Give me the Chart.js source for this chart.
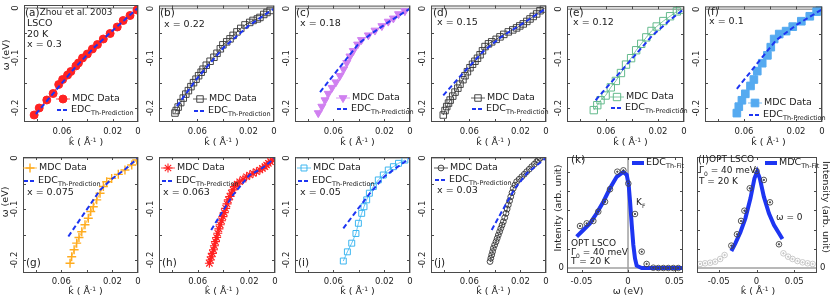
<!DOCTYPE html>
<html><head><meta charset="utf-8">
<script src="https://cdn.jsdelivr.net/npm/chart.js@4.4.0/dist/chart.umd.min.js"></script>
<style>
html,body{margin:0;padding:0;background:#fff;}
#wrap{position:relative;width:830px;height:300px;overflow:hidden;background:#fff;}
#wrap canvas{position:absolute;left:0;top:0;}
</style></head><body><div id="wrap"></div>
<script>
// ---------- tick labels ----------
const kTickVals = [0.06, 0.02, 0];
const kTickText = ['0.06', '0.02', '0'];
const wTickVals = [0, -0.1, -0.2];
const wTickText = ['0', '-0.1', '-0.2'];
const fitTickVals = [-0.05, 0, 0.05];
const fitTickText = ['-0.05', '0', '0.05'];
const intTickVals = [0];
const intTickText = ['0'];

// ---------- (a) x = 0.3 ----------
const mdcK_a = [0.082,0.078,0.072,0.067,0.0626,0.0595,0.0556,0.053,0.049,0.047,0.0438,0.040,0.036,0.032,0.0274,0.022,0.0164,0.0117,0.0063,0.0008];
const mdcW_a = [-0.214,-0.2,-0.184,-0.171,-0.153,-0.143,-0.134,-0.127,-0.116,-0.11,-0.1,-0.092,-0.082,-0.073,-0.062,-0.051,-0.038,-0.025,-0.015,-0.004];
const edcK_a = [0.0806,0.065,0.05,0.035,0.02,0];
const edcW_a = [-0.212,-0.165,-0.12,-0.08,-0.045,0];
// ---------- (b) x = 0.22 ----------
const mdcK_b = [0.0775,0.0765,0.075,0.073,0.071,0.069,0.067,0.065,0.063,0.061,0.059,0.057,0.0555,0.053,0.05,0.047,0.0446,0.042,0.040,0.037,0.0344,0.032,0.029,0.026,0.0227,0.019,0.0164,0.013,0.011,0.008,0.0055,0.003];
const mdcW_b = [-0.21,-0.205,-0.198,-0.189,-0.18,-0.172,-0.165,-0.157,-0.149,-0.142,-0.135,-0.128,-0.122,-0.114,-0.106,-0.098,-0.09,-0.081,-0.073,-0.067,-0.061,-0.054,-0.047,-0.04,-0.033,-0.028,-0.024,-0.021,-0.018,-0.012,-0.008,-0.004];
const edcK_b = [0.076,0.06,0.04,0.02,0];
const edcW_b = [-0.196,-0.14,-0.08,-0.035,0];
// ---------- (c) x = 0.18 ----------
const mdcK_c = [0.0718,0.069,0.0665,0.064,0.061,0.058,0.0548,0.052,0.0495,0.047,0.0444,0.041,0.038,0.0326,0.0274,0.022,0.017,0.013,0.009,0.004];
const mdcW_c = [-0.21,-0.197,-0.184,-0.171,-0.159,-0.148,-0.135,-0.122,-0.109,-0.096,-0.085,-0.072,-0.063,-0.0536,-0.044,-0.035,-0.026,-0.0196,-0.011,-0.005];
const edcK_c = [0.0704,0.055,0.04,0.03,0.015,0];
const edcW_c = [-0.168,-0.118,-0.07,-0.05,-0.024,0];
// ---------- (d) x = 0.15 ----------
const mdcK_d = [0.0804,0.079,0.0777,0.0763,0.075,0.073,0.0712,0.069,0.0673,0.065,0.0634,0.0615,0.0595,0.0575,0.0556,0.0536,0.0516,0.0497,0.0477,0.045,0.0425,0.039,0.036,0.033,0.0295,0.026,0.023,0.0205,0.0178,0.015,0.0125,0.01,0.0073,0.0047,0.002];
const mdcW_d = [-0.214,-0.205,-0.197,-0.19,-0.184,-0.176,-0.168,-0.16,-0.152,-0.143,-0.135,-0.127,-0.119,-0.112,-0.106,-0.1,-0.093,-0.085,-0.0765,-0.071,-0.067,-0.062,-0.057,-0.052,-0.047,-0.043,-0.039,-0.035,-0.031,-0.026,-0.021,-0.016,-0.011,-0.0045,-0.001];
const edcK_d = [0.0804,0.065,0.049,0.035,0.02,0];
const edcW_d = [-0.1745,-0.13,-0.086,-0.057,-0.033,0];
// ---------- (e) x = 0.12 ----------
const mdcK_e = [0.0694,0.0667,0.0642,0.0603,0.0563,0.0524,0.0485,0.0446,0.0407,0.0368,0.0329,0.029,0.025,0.021,0.0159,0.0107,0.0055,0.003];
const mdcW_e = [-0.204,-0.194,-0.184,-0.1745,-0.158,-0.145,-0.129,-0.112,-0.099,-0.083,-0.07,-0.057,-0.044,-0.035,-0.024,-0.0143,-0.0045,-0.001];
const edcK_e = [0.068,0.055,0.04,0.025,0.01,0];
const edcW_e = [-0.184,-0.145,-0.1,-0.055,-0.02,0];
// ---------- (f) x = 0.1 ----------
const mdcK_f = [0.0655,0.064,0.0616,0.059,0.055,0.0524,0.0498,0.046,0.042,0.0394,0.0368,0.0329,0.0276,0.0225,0.0159,0.0094,0.0041,0.0016];
const mdcW_f = [-0.21,-0.197,-0.184,-0.171,-0.155,-0.142,-0.125,-0.109,-0.093,-0.0765,-0.06,-0.05,-0.044,-0.035,-0.024,-0.014,-0.0045,-0.001];
const edcK_f = [0.0655,0.05,0.0355,0.02,0];
const edcW_f = [-0.161,-0.11,-0.063,-0.032,0];
// ---------- (g) x = 0.075 ----------
const mdcK_g = [0.0532,0.0519,0.050,0.048,0.0462,0.044,0.0415,0.0389,0.037,0.035,0.0323,0.0297,0.0271,0.0245,0.0206,0.0154,0.0102,0.0049,0.001];
const mdcW_g = [-0.2065,-0.1935,-0.18,-0.167,-0.156,-0.1445,-0.131,-0.118,-0.105,-0.0955,-0.082,-0.069,-0.056,-0.0465,-0.04,-0.032,-0.0235,-0.0137,-0.004];
const edcK_g = [0.0545,0.042,0.0297,0.02,0.01,0];
const edcW_g = [-0.154,-0.108,-0.063,-0.04,-0.022,0];
// ---------- (h) x = 0.063 ----------
const mdcK_h = [0.0509,0.0502,0.0495,0.0486,0.0477,0.047,0.0462,0.0453,0.0444,0.0435,0.0425,0.0415,0.0404,0.0394,0.0383,0.0372,0.0362,0.035,0.0339,0.0326,0.0313,0.0294,0.0274,0.0248,0.0221,0.0196,0.017,0.0144,0.0117,0.0098,0.0078,0.0065,0.0052,0.0035,0.002];
const mdcW_h = [-0.2065,-0.2,-0.1935,-0.187,-0.18,-0.172,-0.164,-0.156,-0.1476,-0.139,-0.131,-0.123,-0.115,-0.107,-0.0987,-0.09,-0.082,-0.0755,-0.069,-0.0625,-0.056,-0.051,-0.0465,-0.0416,-0.0367,-0.0333,-0.030,-0.0268,-0.0235,-0.0203,-0.017,-0.0137,-0.0104,-0.007,-0.004];
const edcK_h = [0.0495,0.041,0.0326,0.02,0.01,0];
const edcW_h = [-0.141,-0.106,-0.0725,-0.034,-0.02,0];
// ---------- (i) x = 0.05 ----------
const mdcK_i = [0.0522,0.049,0.0456,0.0423,0.0404,0.0378,0.036,0.0339,0.0318,0.0287,0.0248,0.0209,0.017,0.013,0.009,0.004];
const mdcW_i = [-0.202,-0.184,-0.167,-0.148,-0.128,-0.1085,-0.0955,-0.082,-0.069,-0.056,-0.043,-0.0333,-0.0235,-0.017,-0.0104,-0.004];
const edcK_i = [0.0522,0.042,0.0313,0.02,0];
const edcW_i = [-0.138,-0.104,-0.069,-0.036,0];
// ---------- (j) x = 0.03 ----------
const mdcK_j = [0.0438,0.0432,0.0425,0.0418,0.0412,0.0402,0.0391,0.0382,0.0373,0.0363,0.0354,0.0344,0.0334,0.0323,0.0313,0.0304,0.0295,0.0285,0.0276,0.0266,0.0256,0.0243,0.023,0.021,0.019,0.017,0.0151,0.0131,0.0112,0.0092,0.0073,0.006,0.0047];
const mdcW_j = [-0.203,-0.1965,-0.190,-0.1835,-0.177,-0.1705,-0.164,-0.1575,-0.151,-0.1445,-0.138,-0.1315,-0.125,-0.117,-0.1085,-0.1,-0.092,-0.084,-0.076,-0.068,-0.0595,-0.053,-0.0465,-0.0416,-0.0367,-0.0318,-0.0268,-0.0219,-0.017,-0.0122,-0.0073,-0.004,-0.0006];
const edcK_j = [0.0425,0.0335,0.0243,0.015,0];
const edcW_j = [-0.141,-0.1,-0.0595,-0.03,0];
// ---------- (k) EDC fit at kF ----------
const fitW_k = [-0.0552,-0.048,-0.0409,-0.0337,-0.0265,-0.0194,-0.0122,-0.005,-0.0014,0.0007,0.0022,0.004,0.0057,0.0075,0.0093,0.0147,0.03,0.059];
const fitI_k = [0.326,0.396,0.465,0.57,0.69,0.83,0.95,1.0,0.97,0.865,0.69,0.45,0.24,0.10,0.024,0,0,0];
const datW_k = [-0.0516,-0.0444,-0.0373,-0.032,-0.0247,-0.0194,-0.0115,-0.005,0.0003,0.0075,0.0147,0.020,0.0272,0.0326,0.038,0.0433,0.0487,0.054];
const datI_k = [0.4375,0.465,0.49,0.587,0.69,0.82,1.003,1.017,0.88,0.5625,0.17,0.042,0.003,0,0,0,0,0];
// ---------- (l) MDC fit at omega = 0 ----------
const fitK_l = [-0.0333,-0.028,-0.0213,-0.0147,-0.008,-0.0027,0.0009,0.0044,0.0097,0.0164,0.0231,0.0297,0.0343];
const fitI_l = [0.177,0.257,0.372,0.517,0.726,0.934,1.003,0.934,0.743,0.569,0.448,0.361,0.302];
const datK_l = [-0.0333,-0.0258,-0.0204,-0.016,-0.0089,0,0.0097,0.0178,0.0297];
const datI_l = [0.233,0.351,0.49,0.597,0.83,1.01,0.917,0.684,0.247];
const outK_l = [-0.0747,-0.068,-0.0613,-0.0547,-0.048,-0.0422,0.0356,0.0418,0.0476,0.0542,0.0609,0.0676,0.0742];
const outI_l = [0.042,0.049,0.055,0.066,0.094,0.135,0.153,0.118,0.094,0.073,0.059,0.049,0.042];

// ---------- helpers ----------
const F = "'DejaVu Sans', 'Noto Sans', sans-serif";
const BLUE = '#1d35f2';
const wrap = document.getElementById('wrap');
function pts(xs, ys){ return xs.map((v,i)=>({x:v, y:ys[i]})); }
function mdcSet(xs, ys, st, noLine){
  return {data:pts(xs,ys), showLine:!noLine, borderColor:st.color, borderWidth:0.8,
    pointStyle:st.shape, pointRotation:st.rot||0, pointRadius:st.r, pointBorderWidth:st.bw||1,
    pointBorderColor:st.color, pointBackgroundColor: st.fill ? st.color : 'rgba(0,0,0,0)', order:2};
}
function edcSet(xs, ys){
  return {data:pts(xs,ys), showLine:true, borderColor:BLUE, borderWidth:2, borderDash:[5,3], pointRadius:0, order:1};
}
// parts: [text, size, dy, flag]; flag 'hat' draws a circumflex over the previous glyph
function drawParts(ctx, x, y, parts, align){
  let total = 0;
  parts.forEach(p=>{ if (p[3]==='hat') return; ctx.font = p[1]+'px '+F; total += ctx.measureText(p[0]).width; });
  let cx = align==='center' ? x-total/2 : (align==='right' ? x-total : x);
  let prevX = cx, prevW = 0;
  ctx.textAlign = 'left'; ctx.textBaseline = 'middle';
  parts.forEach(p=>{
    ctx.font = p[1]+'px '+F;
    if (p[3]==='hat') { ctx.textAlign='center'; ctx.fillText(p[0], prevX + prevW/2, y + (p[2]||0)); ctx.textAlign='left'; return; }
    ctx.fillText(p[0], cx, y + (p[2]||0));
    prevX = cx; prevW = ctx.measureText(p[0]).width; cx += prevW;
  });
}
function drawMarker(ctx, st, x, y){
  ctx.save();
  ctx.strokeStyle = st.color; ctx.lineWidth = st.bw||1;
  ctx.fillStyle = st.fill ? st.color : 'rgba(0,0,0,0)';
  Chart.helpers.drawPoint(ctx, {pointStyle:st.shape, rotation:st.rot||0, radius:st.r, borderWidth:st.bw||1}, x, y);
  ctx.restore();
}
const kTitle = [['k',9.5],['\u02c6',9,-1.5,'hat'],[' ( \u00c5',9.5],['-1',6,-3],[' )',9.5]];

function panelPlugin(spec){
  return {
    id:'panel',
    beforeDatasetsDraw(chart){
      const {ctx, chartArea:a, scales:{x, y}} = chart;
      ctx.save(); ctx.strokeStyle = '#a0a0a0'; ctx.lineWidth = 1.5;
      (spec.hLines||[]).forEach(v=>{ const py=y.getPixelForValue(v); ctx.beginPath(); ctx.moveTo(a.left,py); ctx.lineTo(a.right,py); ctx.stroke(); });
      (spec.vLines||[]).forEach(v=>{ const px=x.getPixelForValue(v); ctx.beginPath(); ctx.moveTo(px,a.top); ctx.lineTo(px,a.bottom); ctx.stroke(); });
      ctx.restore();
    },
    afterDatasetsDraw(chart){
      const {ctx, chartArea:a, scales:{x, y}} = chart;
      ctx.save();
      ctx.strokeStyle = '#4a4a4a'; ctx.lineWidth = 1;
      ctx.strokeRect(a.left+0.5, a.top+0.5, a.right-a.left-1, a.bottom-a.top-1);
      ctx.beginPath();
      (spec.xMinor||[]).forEach(v=>{ const px=Math.round(x.getPixelForValue(v))+0.5; ctx.moveTo(px,a.bottom); ctx.lineTo(px,a.bottom-3); ctx.moveTo(px,a.top); ctx.lineTo(px,a.top+3); });
      (spec.yMinor||[]).forEach(v=>{ const py=Math.round(y.getPixelForValue(v))+0.5; ctx.moveTo(a.left,py); ctx.lineTo(a.left+3,py); ctx.moveTo(a.right,py); ctx.lineTo(a.right-3,py); });
      ctx.stroke();
      ctx.fillStyle = '#222';
      ctx.font = '8.5px '+F; ctx.textAlign='center'; ctx.textBaseline='middle';
      spec.xt[0].forEach((v,i)=>{ ctx.fillText(spec.xt[1][i], x.getPixelForValue(v), a.bottom + spec.xLabDy); });
      spec.yt[0].forEach((v,i)=>{
        const py = y.getPixelForValue(v);
        ctx.font = '8.5px '+F;
        if (spec.yLabSide === 'right') { ctx.textAlign='left'; ctx.textBaseline='middle'; ctx.fillText(spec.yt[1][i], a.right+3, py); }
        else if (spec.yRot) { ctx.save(); ctx.translate(a.left-8, py); ctx.rotate(-Math.PI/2); ctx.textAlign='center'; ctx.textBaseline='middle'; ctx.fillText(spec.yt[1][i],0,0); ctx.restore(); }
        else { ctx.textAlign='right'; ctx.textBaseline='middle'; ctx.fillText(spec.yt[1][i], a.left-3, py); }
      });
      if (spec.xTitle) drawParts(ctx, spec.xTitle.x, spec.xTitle.y, spec.xTitle.parts, 'center');
      if (spec.yTitle) {
        ctx.save(); ctx.translate(spec.yTitle.x, spec.yTitle.y); ctx.rotate(spec.yTitle.rot);
        drawParts(ctx, 0, 0, spec.yTitle.parts, 'center'); ctx.restore();
      }
      const lg = spec.legend;
      if (lg) {
        if (lg.mdc) {
          ctx.save(); ctx.strokeStyle = lg.mdc.st.color; ctx.lineWidth = 0.8;
          ctx.beginPath(); ctx.moveTo(lg.mdc.x-7, lg.mdc.y); ctx.lineTo(lg.mdc.x+7, lg.mdc.y); ctx.stroke(); ctx.restore();
          drawMarker(ctx, lg.mdc.st, lg.mdc.x, lg.mdc.y);
          ctx.fillStyle = '#222'; drawParts(ctx, lg.mdc.x+9, lg.mdc.y, [['MDC Data',9.5]]);
        }
        if (lg.line) {
          const L = lg.line;
          ctx.save(); ctx.strokeStyle = BLUE; ctx.lineWidth = L.w; ctx.setLineDash(L.dash||[]);
          ctx.beginPath(); ctx.moveTo(L.x0, L.y); ctx.lineTo(L.x1, L.y); ctx.stroke(); ctx.restore();
          ctx.fillStyle = '#222'; drawParts(ctx, L.x1+2, L.y, L.parts);
        }
      }
      ctx.fillStyle = '#222';
      (spec.texts||[]).forEach(t=>{ drawParts(ctx, t.x, t.y, t.parts, t.align); });
      ctx.restore();
    }
  };
}

function build(spec){
  const cv = document.createElement('canvas'); cv.width = 830; cv.height = 300; wrap.appendChild(cv);
  const [L,T,R,B] = spec.box;
  new Chart(cv, {
    type:'scatter',
    data:{datasets:spec.datasets},
    options:{
      responsive:false, animation:false, devicePixelRatio:1, events:[],
      layout:{padding:{left:L, top:T, right:830-R, bottom:300-B}},
      scales:{
        x:{type:'linear', display:false, min:spec.x[0], max:spec.x[1], reverse:!!spec.x[2]},
        y:{type:'linear', display:false, min:spec.y[0], max:spec.y[1]}
      },
      plugins:{legend:{display:false}, tooltip:{enabled:false}}
    },
    plugins:[panelPlugin(spec)]
  });
}

// ---------- styles ----------
const S = {
  a:{shape:'circle', r:4, color:'#ff2222', fill:true},
  b:{shape:'rect', r:4.6, color:'#333333', bw:0.9},
  c:{shape:'triangle', r:4.6, rot:180, color:'#d080f0', fill:true},
  d:{shape:'rect', r:4.6, color:'#333333', bw:0.9},
  e:{shape:'rect', r:5.2, color:'#63ba8c', bw:1},
  f:{shape:'rect', r:5.4, color:'#55aaf0', fill:true},
  g:{shape:'cross', r:4.5, color:'#ffac1f', bw:1.4},
  h:{shape:'star', r:4.5, color:'#ff2020', bw:1.1},
  i:{shape:'rect', r:4.2, color:'#3cb6f0', bw:1},
  j:{shape:'circle', r:2.9, color:'#333333', bw:0.9},
  fit:{shape:'circle', r:2.8, color:'#444444', bw:0.9},
  fitDot:{shape:'circle', r:0.7, color:'#444444', fill:true},
  out:{shape:'circle', r:2.8, color:'#c4c4c4', bw:0.9},
  outDot:{shape:'circle', r:0.7, color:'#c4c4c4', fill:true}
};
const xMinorK = [0.08,0.06,0.04,0.02];
const yMinorW = [-0.05,-0.1,-0.15,-0.2];
const row1 = {T:3, B:122, y:[-0.228,0.006], xLabDy:10};
const row2 = {T:157, B:273, y:[-0.2255,0.002], xLabDy:9};
function edcParts(){ return [['EDC',9.5],['Th-Prediction',6.5,3]]; }

function kPanel(row, L, R, mdcK, mdcW, edcK, edcW, st, legend, texts, yTitle){
  build({
    box:[L,row.T,R,row.B], x:[0,0.09,true], y:row.y,
    xt:[kTickVals,kTickText], yt:[wTickVals,wTickText], yRot:true, xLabDy:row.xLabDy,
    hLines:[0], vLines:[0], xMinor:xMinorK, yMinor:yMinorW,
    xTitle:{x:(L+R)/2+5, y:row.B + (row===row1?21:19), parts:kTitle},
    yTitle: yTitle,
    datasets:[edcSet(edcK,edcW), mdcSet(mdcK,mdcW,st)],
    legend: legend, texts: texts
  });
}
function lg1(mx, my, ly, st){
  return {mdc:{x:mx, y:my, st:st}, line:{x0:mx-6, x1:mx+6, y:ly, w:2, dash:[4,2], parts:edcParts()}};
}

// Row 1
kPanel(row1, 24, 138, mdcK_a, mdcW_a, edcK_a, edcW_a, S.a, lg1(63,99,110,S.a),
  [{x:25,y:13,parts:[['(a)',10.5],['Zhou et al. 2003',8.8]]},{x:27,y:24,parts:[['LSCO',9.5]]},{x:27,y:35,parts:[['20 K',9.5]]},{x:27,y:45,parts:[['x = 0.3',9.5]]}],
  {x:7, y:55, rot:-Math.PI/2, parts:[['\u03c9 (eV)',9.5]]});
kPanel(row1, 159, 274, mdcK_b, mdcW_b, edcK_b, edcW_b, S.b, lg1(200,99,111,S.b),
  [{x:160,y:13,parts:[['(b)',10.5]]},{x:164,y:25,parts:[['x = 0.22',9.5]]}]);
kPanel(row1, 295, 410, mdcK_c, mdcW_c, edcK_c, edcW_c, S.c, lg1(343,98,109,S.c),
  [{x:296,y:13,parts:[['(c)',10.5]]},{x:300,y:24,parts:[['x = 0.18',9.5]]}]);
kPanel(row1, 431, 546, mdcK_d, mdcW_d, edcK_d, edcW_d, S.d, lg1(478,98,109,S.d),
  [{x:433,y:13,parts:[['(d)',10.5]]},{x:437,y:23,parts:[['x = 0.15',9.5]]}]);
kPanel(row1, 567, 684, mdcK_e, mdcW_e, edcK_e, edcW_e, S.e, lg1(617,97,108,S.e),
  [{x:569,y:13,parts:[['(e)',10.5]]},{x:573,y:23,parts:[['x = 0.12',9.5]]}]);
kPanel(row1, 705, 822, mdcK_f, mdcW_f, edcK_f, edcW_f, S.f, lg1(755,103,115,S.f),
  [{x:707,y:12,parts:[['(f)',10.5]]},{x:709,y:22,parts:[['x = 0.1',9.5]]}]);

// Row 2
kPanel(row2, 23, 138, mdcK_g, mdcW_g, edcK_g, edcW_g, S.g, lg1(30,168,181,S.g),
  [{x:27,y:193,parts:[['x = 0.075',9.5]]},{x:26,y:263,parts:[['(g)',10.5]]}],
  {x:6, y:202, rot:-Math.PI/2, parts:[['\u03c9 (eV)',9.5]]});
kPanel(row2, 159, 275, mdcK_h, mdcW_h, edcK_h, edcW_h, S.h, lg1(168,168,181,S.h),
  [{x:163,y:193,parts:[['x = 0.063',9.5]]},{x:162,y:263,parts:[['(h)',10.5]]}]);
kPanel(row2, 295, 410, mdcK_i, mdcW_i, edcK_i, edcW_i, S.i, lg1(304,168,181,S.i),
  [{x:300,y:193,parts:[['x = 0.05',9.5]]},{x:298,y:263,parts:[['(i)',10.5]]}]);
kPanel(row2, 431, 546, mdcK_j, mdcW_j, edcK_j, edcW_j, S.j, lg1(441,168,180,S.j),
  [{x:437,y:191,parts:[['x = 0.03',9.5]]},{x:434,y:263,parts:[['(j)',10.5]]}]);

// (k)
build({
  box:[567,157,683,273], x:[-0.0656,0.0591,false], y:[-0.052,1.156],
  xt:[fitTickVals,fitTickText], yt:[intTickVals,intTickText], yRot:false, xLabDy:9,
  hLines:[0], vLines:[0], xMinor:[-0.05,0,0.05], yMinor:[0.2,0.4,0.6,0.8,1.0],
  xTitle:{x:628, y:292, parts:[['\u03c9 (eV)',9.5]]},
  yTitle:{x:559, y:208, rot:-Math.PI/2, parts:[['Intenity (arb. unit)',9.5]]},
  datasets:[
    mdcSet(datW_k, datI_k, S.fit, true),
    mdcSet(datW_k, datI_k, S.fitDot, true),
    {data:pts(fitW_k, fitI_k), showLine:true, borderColor:BLUE, borderWidth:4, pointRadius:0, order:3}
  ],
  legend:{line:{x0:632, x1:644, y:163, w:4, parts:[['EDC',9.5],['Th-Fit',6.5,3]]}},
  texts:[{x:571,y:160,parts:[['(k)',10.5]]},{x:636,y:203,parts:[['K',9],['F',6,3]]},
    {x:571,y:244,parts:[['OPT LSCO',9]]},{x:571,y:253,parts:[['\u0393',9],['0',6,3],[' = 40 meV',9]]},{x:571,y:262,parts:[['T = 20 K',9]]}]
});
// (l)
build({
  box:[697,157,817,273], x:[-0.0787,0.08,false], y:[-0.052,1.156],
  xt:[fitTickVals,fitTickText], yt:[intTickVals,intTickText], yLabSide:'right', xLabDy:9,
  hLines:[0], vLines:[], xMinor:[-0.05,0,0.05], yMinor:[0.2,0.4,0.6,0.8,1.0],
  xTitle:{x:758, y:292, parts:kTitle},
  yTitle:{x:825, y:207, rot:Math.PI/2, parts:[['Intensity (arb. unit)',9.5]]},
  datasets:[
    mdcSet(datK_l, datI_l, S.fit, true),
    mdcSet(datK_l, datI_l, S.fitDot, true),
    mdcSet(outK_l, outI_l, S.out, true),
    mdcSet(outK_l, outI_l, S.outDot, true),
    {data:pts(fitK_l, fitI_l), showLine:true, borderColor:BLUE, borderWidth:4, pointRadius:0, order:3}
  ],
  legend:{line:{x0:765, x1:777, y:163, w:4, parts:[['MDC',9.5],['Th-Fit',6.5,3]]}},
  texts:[{x:698,y:160,parts:[['(l)',10.5],['OPT LSCO',9]]},{x:699,y:171,parts:[['\u0393',9],['0',6,3],[' = 40 meV',9]]},{x:699,y:182,parts:[['T = 20 K',9]]},
    {x:776,y:218,parts:[['\u03c9 = 0',9]]}]
});
</script></body></html>
